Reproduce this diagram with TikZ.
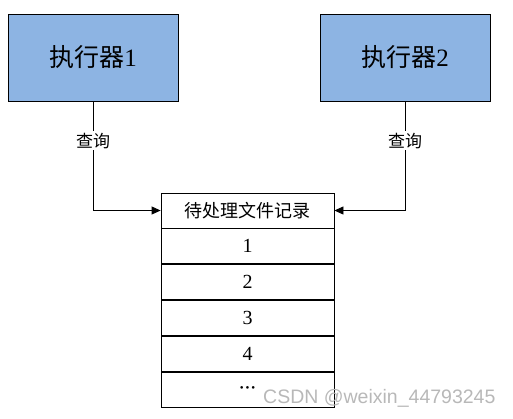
\documentclass[tikz,border=0pt]{standalone}
\usepackage{fontspec}
\setmainfont{Liberation Serif}
\newfontfamily\cjk{Noto Sans CJK SC}
\newfontfamily\wmfont{Liberation Sans}
\usetikzlibrary{arrows.meta,positioning}

\definecolor{execblue}{HTML}{8DB4E3}

\begin{document}
\begin{tikzpicture}[
    x=1pt, y=-1pt,
    executor/.style={draw, fill=execblue, line width=0.8pt, minimum width=170pt, minimum height=87pt, font=\fontsize{25}{25}\selectfont},
    row/.style={draw, line width=0.8pt, minimum width=173pt, minimum height=35pt, font=\fontsize{20}{20}\selectfont},
    arr/.style={-{Triangle[length=9pt, width=8pt]}, line width=0.8pt},
    query/.style={pos=0.18, fill=white, font=\cjk\fontsize{17}{17}\selectfont, inner sep=2pt},
    node distance=0pt,
]
    \useasboundingbox (0,0) rectangle (513,418);

    \node[executor] (exec1) at (93, 57.5) {{\cjk 执行器}1};
    \node[executor] (exec2) at (405, 57.5) {{\cjk 执行器}2};

    % table of pending files
    \node[row, font=\cjk\fontsize{18}{18}\selectfont] (head) at (247.5, 210.5) {待处理文件记录};
    \node[row, below=of head.south, anchor=north] (r1) {1};
    \node[row, below=of r1.south, anchor=north] (r2) {2};
    \node[row, below=of r2.south, anchor=north] (r3) {3};
    \node[row, below=of r3.south, anchor=north] (r4) {4};
    \node[row, below=of r4.south, anchor=north, font=\fontsize{11}{11}\selectfont] (r5) {\textbullet\,\textbullet\,\textbullet};

    \draw[arr] (exec1) |- node[query] {查询} (head.west);
    \draw[arr] (exec2) |- node[query] {查询} (head.east);

    \node[text=black!28, font=\wmfont\fontsize{19.5}{19.5}\selectfont, anchor=east] (mark) at (499, 398) {CSDN @weixin\_44793245};
\end{tikzpicture}
\end{document}
